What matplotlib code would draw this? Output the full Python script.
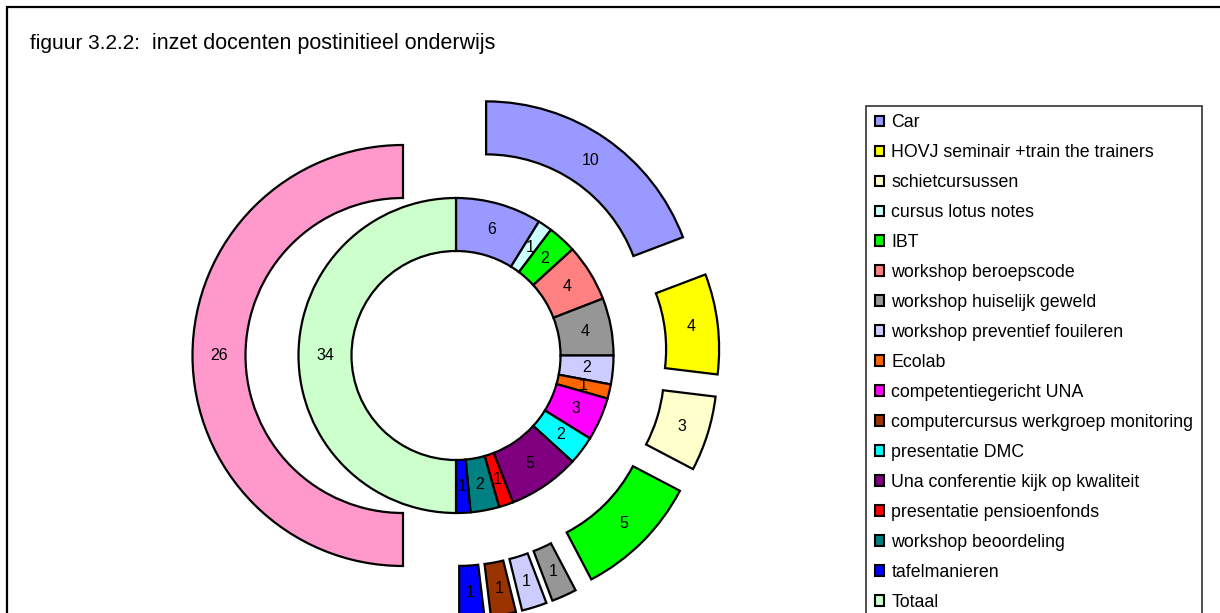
import matplotlib.pyplot as plt
from matplotlib.patches import Patch, Rectangle

plt.rcParams['font.family'] = ['Liberation Sans', 'DejaVu Sans']

categories = ['Car', 'HOVJ seminair +train the trainers', 'schietcursussen',
              'cursus lotus notes', 'IBT', 'workshop beroepscode',
              'workshop huiselijk geweld', 'workshop preventief fouileren',
              'Ecolab', 'competentiegericht UNA',
              'computercursus werkgroep monitoring', 'presentatie DMC',
              'Una conferentie kijk op kwaliteit', 'presentatie pensioenfonds',
              'workshop beoordeling', 'tafelmanieren', 'Totaal']
inner_values = [6, 0, 0, 1, 2, 4, 4, 2, 1, 3, 0, 2, 5, 1, 2, 1, 34]
outer_values = [10, 4, 3, 0, 5, 0, 1, 1, 0, 0, 1, 0, 0, 0, 0, 1, 26]
colors = ['#9999FF', '#FFFF00', '#FFFFCC', '#CCFFFF', '#00FF00', '#FF8080',
          '#969696', '#CCCCFF', '#FF6600', '#FF00FF', '#993300', '#00FFFF',
          '#800080', '#FF0000', '#008080', '#0000FF', '#CCFFCC']
outer_colors = colors[:-1] + ['#FF99CC']

W, H = 1220, 613
fig = plt.figure(figsize=(W / 100, H / 100), dpi=100)
ax = fig.add_axes([0, 0, 1, 1])

cx, cy = 456, H - 355.5
ring = 53
wp = dict(width=ring, edgecolor='black', linewidth=1.6)


def ring_pie(values, cols, radius, explode_px):
    pairs = [(v, c) for v, c in zip(values, cols) if v > 0]
    vals = [p[0] for p in pairs]
    total = sum(vals)
    ax.pie(vals, colors=[p[1] for p in pairs], radius=radius, center=(cx, cy),
           startangle=90, counterclock=False, frame=True,
           explode=[explode_px] * len(vals),
           wedgeprops=wp,
           autopct=lambda p: f'{p * total / 100:.0f}',
           pctdistance=(radius - ring / 2) / radius,
           textprops=dict(fontsize=11.5, color='black'))


ring_pie(inner_values, colors, 157.5, 0)
ring_pie(outer_values, outer_colors, 210.5, 53)

ax.set_xlim(0, W)
ax.set_ylim(0, H)
ax.set_aspect('equal')
ax.axis('off')

# chart border
ax.add_patch(Rectangle((7, -20), W + 20, H - 7 + 20, fill=False,
                       edgecolor='black', linewidth=1.6, clip_on=False))

ax.text(30, H - 49, 'figuur 3.2.2:', fontsize=15, va='baseline')
ax.text(152, H - 49, 'inzet docenten postinitieel onderwijs', fontsize=15.5,
        va='baseline')

handles = [Patch(facecolor=c, edgecolor='black', linewidth=1.5) for c in colors]
leg = fig.legend(handles, categories, loc='upper left',
                 bbox_to_anchor=(866 / W, 1 - 105.7 / H), borderaxespad=0,
                 fontsize=12.8, frameon=True, fancybox=False, edgecolor='black',
                 handlelength=0.55, handleheight=0.55, handletextpad=0.4,
                 labelspacing=0.73, borderpad=0.48)
leg.get_frame().set_linewidth(1.2)

fig.savefig('out.png', dpi=100)
